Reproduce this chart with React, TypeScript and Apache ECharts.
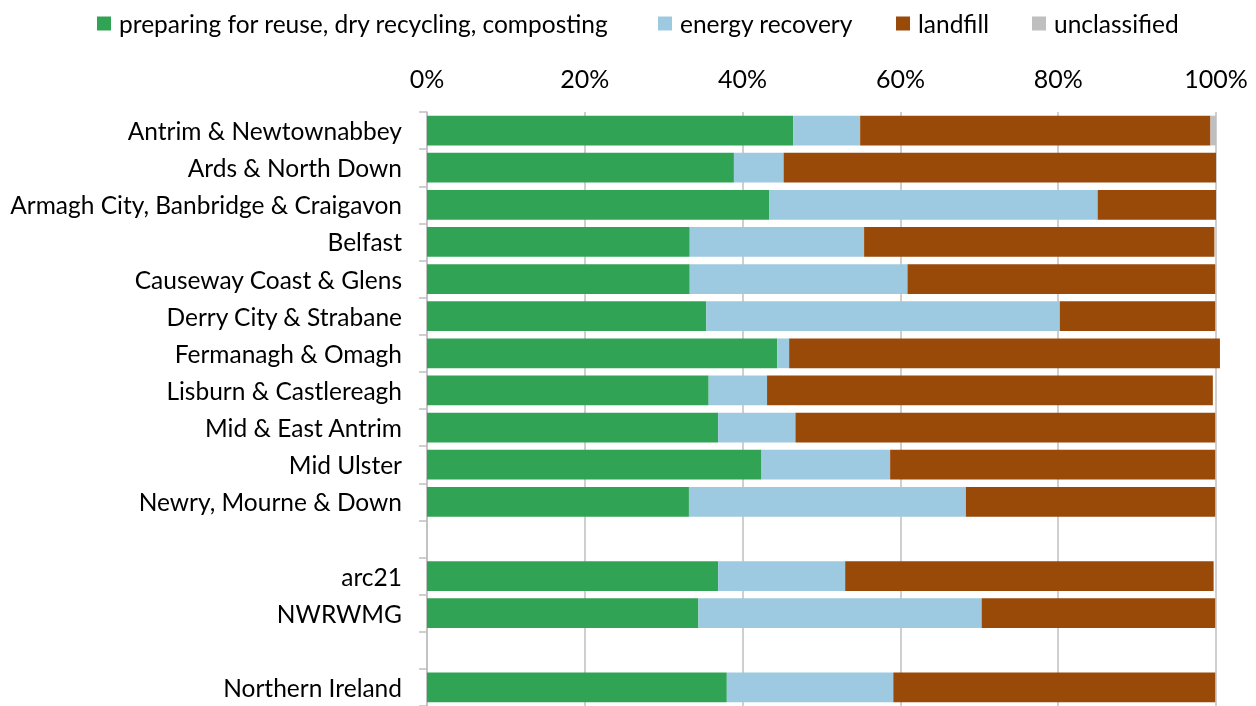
import React, { useEffect, useRef } from "react";
import * as echarts from "echarts";

const categories = [
  "Antrim & Newtownabbey",
  "Ards & North Down",
  "Armagh City, Banbridge & Craigavon",
  "Belfast",
  "Causeway Coast & Glens",
  "Derry City & Strabane",
  "Fermanagh & Omagh",
  "Lisburn & Castlereagh",
  "Mid & East Antrim",
  "Mid Ulster",
  "Newry, Mourne & Down",
  "",
  "arc21",
  "NWRWMG",
  " ",
  "Northern Ireland",
];

const recycling = [46.4, 38.9, 43.4, 33.3, 33.3, 35.4, 44.4, 35.7, 36.9, 42.4, 33.2, null, 36.9, 34.4, null, 38.0];
const energyRecovery = [8.5, 6.3, 41.6, 22.1, 27.6, 44.8, 1.5, 7.4, 9.8, 16.3, 35.1, null, 16.1, 35.9, null, 21.1];
const landfill = [44.4, 54.8, 15.0, 44.4, 39.0, 19.7, 54.6, 56.5, 53.2, 41.2, 31.6, null, 46.7, 29.6, null, 40.8];
const unclassified = [0.7, 0, 0, 0, 0, 0, 0, 0, 0, 0, 0, null, 0, 0, null, 0];

const seriesNames = [
  "preparing for reuse, dry recycling, composting",
  "energy recovery",
  "landfill",
  "unclassified",
];
const colors = ["#31a354", "#9ecae1", "#994908", "#bfbfbf"];
const legendLefts = [92, 653, 891, 1027];
const xTicks = { min: 0, max: 100, interval: 20 };

const FONT = "Lato";

export default function App() {
  const ref = useRef<HTMLDivElement>(null);
  useEffect(() => {
    if (!ref.current) return;
    const chart = echarts.init(ref.current, undefined, { renderer: "svg" });
    const dataSets = [recycling, energyRecovery, landfill, unclassified];
    chart.setOption({
      animation: false,
      color: colors,
      textStyle: { fontFamily: FONT },
      legend: seriesNames.map((name, i) => ({
        top: 6,
        left: legendLefts[i],
        icon: "rect",
        itemWidth: 14,
        itemHeight: 14,
        textStyle: {
          fontSize: 24.5,
          color: "#000",
          fontFamily: FONT,
          padding: [0, 0, 0, 3],
        },
        data: [name],
      })),
      grid: { left: 427, right: 40, top: 112, bottom: 0 },
      xAxis: {
        type: "value",
        position: "top",
        min: xTicks.min,
        max: xTicks.max,
        interval: xTicks.interval,
        axisLine: { show: false },
        axisTick: { show: false },
        axisLabel: {
          formatter: "{value}%",
          fontSize: 25,
          color: "#000",
          margin: 22,
          fontFamily: FONT,
        },
        splitLine: { show: true, lineStyle: { color: "#bfbfbf", width: 1.5 } },
      },
      yAxis: {
        type: "category",
        inverse: true,
        data: categories,
        axisLine: { show: true, lineStyle: { color: "#bfbfbf", width: 1.5 } },
        axisTick: { show: true, length: 8, lineStyle: { color: "#bfbfbf", width: 1.5 } },
        axisLabel: { fontSize: 24.5, color: "#000", margin: 25, fontFamily: FONT },
      },
      series: seriesNames.map((name, i) => ({
        name,
        type: "bar",
        stack: "total",
        barCategoryGap: "20%",
        clip: false,
        data: dataSets[i],
        itemStyle: { color: colors[i] },
      })),
    });
    return () => chart.dispose();
  }, []);
  return (
    <div
      ref={ref}
      style={{ position: "fixed", left: 0, top: 0, width: 1256, height: 706 }}
    />
  );
}
